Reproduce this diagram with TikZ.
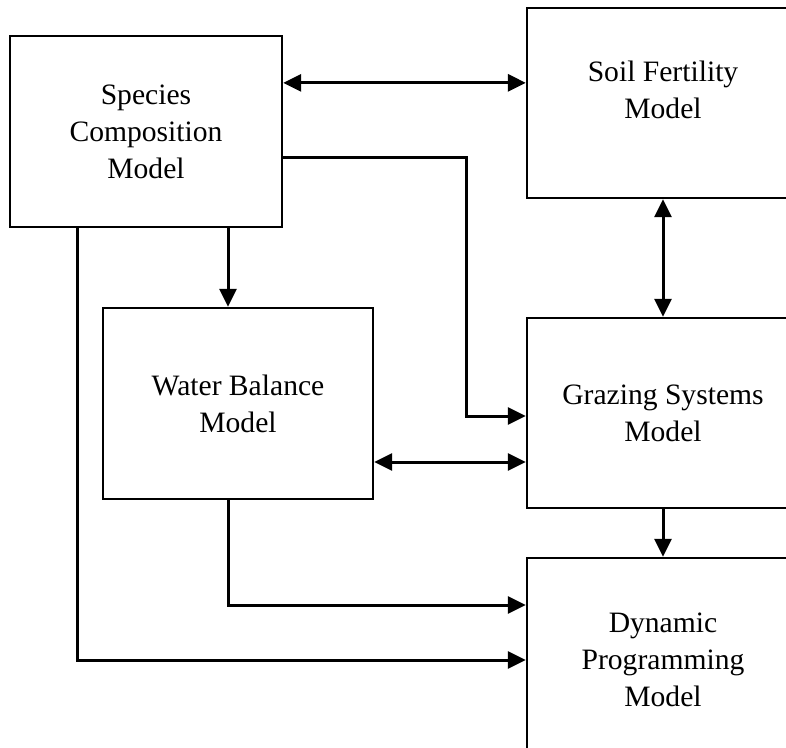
\documentclass[tikz,border=0pt]{standalone}
\usepackage{fontspec}
\setmainfont{Liberation Serif}
\usetikzlibrary{arrows.meta}
\tikzstyle{model}=[rectangle,
                   draw=black,
                   line width=2.3pt,
                   minimum width=272pt,
                   minimum height=191pt,
                   text centered,
                   align=center,
                   font=\fontsize{29.6pt}{37pt}\selectfont
                  ]
\tikzstyle{modeltext}=[align=center, font=\fontsize{29.6pt}{37pt}\selectfont]
\tikzstyle{flow}=[-{Triangle[length=18pt, width=17pt]}, line width=3pt]
\tikzstyle{twoway}=[{Triangle[length=18pt, width=17pt]}-{Triangle[length=18pt, width=17pt]}, line width=3pt]

\begin{document}
\begin{tikzpicture}
  \useasboundingbox (0pt, 0pt) rectangle (786pt, -747pt);
  \clip (0pt, 0pt) rectangle (786pt, -747pt);

  \node at (146pt, -131.5pt) (species) [model] {Species\\Composition\\Model};
  \node at (663pt, -103pt) (soil) [model, minimum height=190pt] {};
  \node at (663pt, -90pt) (soiltext) [modeltext] {Soil Fertility\\Model};
  \node at (238pt, -403.5pt) (water) [model, minimum width=270pt] {Water Balance\\Model};
  \node at (663pt, -413pt) (grazing) [model, minimum height=190pt] {Grazing Systems\\Model};
  \node at (663pt, -660pt) (dynamic) [model, minimum height=204pt] {Dynamic\\Programming\\Model};

  \draw[twoway] ([yshift=-48pt]species.north east) -- ([yshift=-48pt]species.north east -| soil.west);
  \draw[flow] ([yshift=-123pt]species.north east) -- ++(183pt, 0pt) |- ([yshift=-3pt]grazing.west);
  \draw[flow] ([xshift=82pt]species.south) -- ([xshift=82pt]species.south |- water.north);
  \draw[flow] ([xshift=-69pt]species.south) |- (dynamic.west);

  \draw[twoway] (soil.south) -- (grazing.north);
  \draw[twoway] ([yshift=-58.5pt]water.east) -- ([yshift=-58.5pt]water.east -| grazing.west);
  \draw[flow] ([xshift=-10pt]water.south) |- ([yshift=55pt]dynamic.west);
  \draw[flow] (grazing.south) -- (dynamic.north);
\end{tikzpicture}
\end{document}
